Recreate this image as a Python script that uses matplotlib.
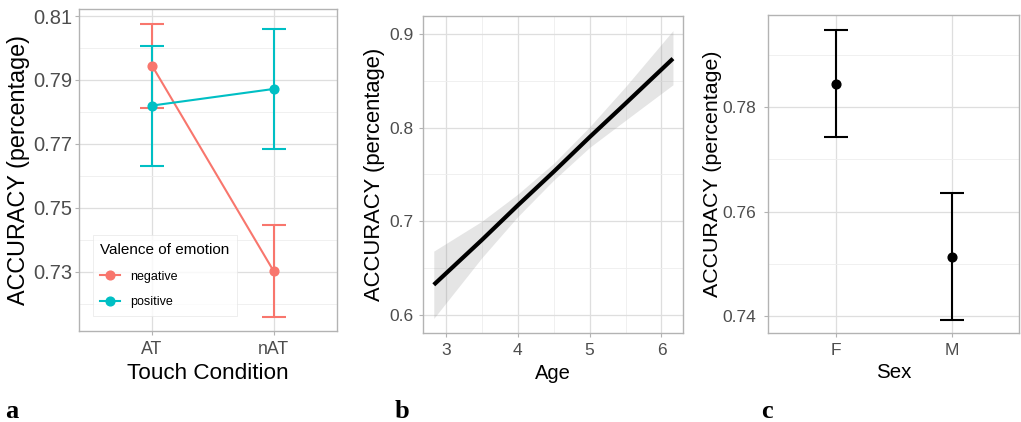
import numpy as np
import matplotlib
matplotlib.use("Agg")
import matplotlib.pyplot as plt
from matplotlib.ticker import FixedLocator

##########
# DATA   #
##########

# panel a: accuracy by touch condition and valence
touch_conditions = ["AT", "nAT"]
neg_mean = [0.7945, 0.7302]
neg_low = [0.7813, 0.7159]
neg_high = [0.8075, 0.7445]
pos_mean = [0.7820, 0.7872]
pos_low = [0.7630, 0.7685]
pos_high = [0.8006, 0.8058]

# panel b: fitted accuracy by age with confidence band
age = [2.83, 3.5, 4.0, 4.5, 5.0, 5.5, 6.16]
age_fit = [0.632, 0.680, 0.717, 0.753, 0.790, 0.826, 0.874]
age_lower = [0.596, 0.661, 0.705, 0.744, 0.779, 0.808, 0.846]
age_upper = [0.668, 0.700, 0.729, 0.762, 0.801, 0.844, 0.904]

# panel c: accuracy by sex
sexes = ["F", "M"]
sex_mean = [0.7845, 0.7514]
sex_low = [0.7742, 0.7392]
sex_high = [0.7948, 0.7636]

##########
# STYLE  #
##########

RED = "#F8766D"
TEAL = "#00BFC4"
BORDER = "#B3B3B3"
GRID_MAJOR = "#DEDEDE"
GRID_MINOR = "#EEEEEE"
TICK_TEXT = "#4D4D4D"

plt.rcParams["font.family"] = ["Liberation Sans", "DejaVu Sans"]

W, H = 1021, 422


def box(left, top, right, bottom):
    return [left / W, 1 - bottom / H, (right - left) / W, (bottom - top) / H]


def light_theme(ax, tick_size, xpad, ypad):
    for s in ax.spines.values():
        s.set_color(BORDER)
        s.set_linewidth(1.0)
    ax.tick_params(which="major", length=3.2, width=0.8, color=BORDER,
                   labelcolor=TICK_TEXT, labelsize=tick_size)
    ax.tick_params(axis="x", pad=xpad)
    ax.tick_params(axis="y", pad=ypad)
    ax.tick_params(which="minor", length=0)
    ax.grid(True, which="major", color=GRID_MAJOR, lw=0.9, zorder=0)
    ax.grid(True, which="minor", color=GRID_MINOR, lw=0.6, zorder=0)
    ax.set_axisbelow(True)


def labels(ax, xlabel, ylabel, xsize, ysize, xpos, ypos):
    ax.set_xlabel(xlabel, fontsize=xsize)
    ax.set_ylabel(ylabel, fontsize=ysize)
    ax.xaxis.set_label_coords(0.5, xpos)
    ax.yaxis.set_label_coords(ypos, 0.5)


def errs(mean, low, high):
    m = np.array(mean)
    return [m - np.array(low), np.array(high) - m]


fig = plt.figure(figsize=(W / 100, H / 100), dpi=100)

# ---- panel a ----
ax1 = fig.add_axes(box(79, 9, 337, 331))
x = np.arange(1, len(touch_conditions) + 1)
ax1.errorbar(x, neg_mean, yerr=errs(neg_mean, neg_low, neg_high), color=RED,
             lw=1.5, marker="o", ms=6.3, capsize=8.6, capthick=1.5, label="negative")
ax1.errorbar(x, pos_mean, yerr=errs(pos_mean, pos_low, pos_high), color=TEAL,
             lw=1.5, marker="o", ms=6.3, capsize=8.6, capthick=1.5, label="positive")
ax1.set_xlim(0.4, 2.52)
ax1.set_ylim(0.7115, 0.8122)
ax1.set_xticks(x)
ax1.set_xticklabels(touch_conditions)
ax1.yaxis.set_major_locator(FixedLocator([0.73, 0.75, 0.77, 0.79, 0.81]))
ax1.yaxis.set_minor_locator(FixedLocator([0.72, 0.74, 0.76, 0.78, 0.80]))
ax1.yaxis.set_major_formatter(plt.FormatStrFormatter("%.2f"))
light_theme(ax1, 14.5, 4.0, 1.5)
ax1.tick_params(axis="x", labelsize=12.8)
labels(ax1, "Touch Condition", "ACCURACY (percentage)", 16.2, 16.8, -0.099, -0.19)
handles, labs = ax1.get_legend_handles_labels()
handles = [h[0] for h in handles]
leg = ax1.legend(handles, labs, title="Valence of emotion", loc="lower left",
                 bbox_to_anchor=(0.053, 0.047), borderaxespad=0, fontsize=9,
                 title_fontsize=11, frameon=True, fancybox=False,
                 handlelength=1.6, labelspacing=1.1, borderpad=0.6,
                 alignment="left")
leg.get_frame().set_edgecolor("#E6E6E6")
leg.get_frame().set_linewidth(0.6)

# ---- panel b ----
ax2 = fig.add_axes(box(423, 16, 683, 333))
ax2.fill_between(age, age_lower, age_upper, color="#999999", alpha=0.25, lw=0, zorder=2)
ax2.plot(age, age_fit, color="black", lw=3, zorder=3, solid_capstyle="butt")
ax2.set_xlim(2.68, 6.3)
ax2.set_ylim(0.5804, 0.9196)
ax2.xaxis.set_major_locator(FixedLocator([3, 4, 5, 6]))
ax2.xaxis.set_minor_locator(FixedLocator([2.5, 3.5, 4.5, 5.5]))
ax2.yaxis.set_major_locator(FixedLocator([0.6, 0.7, 0.8, 0.9]))
ax2.yaxis.set_minor_locator(FixedLocator([0.65, 0.75, 0.85]))
ax2.yaxis.set_major_formatter(plt.FormatStrFormatter("%.1f"))
light_theme(ax2, 12.5, 4.0, 3.5)
labels(ax2, "Age", "ACCURACY (percentage)", 14.5, 15.8, -0.098, -0.146)

# ---- panel c ----
ax3 = fig.add_axes(box(768, 15, 1019, 333))
xs = np.arange(1, len(sexes) + 1)
ax3.errorbar(xs, sex_mean, yerr=errs(sex_mean, sex_low, sex_high), color="black",
             lw=1.5, marker="o", ms=6.3, capsize=8.3, capthick=1.5, ls="none")
ax3.set_xlim(0.41, 2.58)
ax3.set_ylim(0.7368, 0.7976)
ax3.set_xticks(xs)
ax3.set_xticklabels(sexes)
ax3.yaxis.set_major_locator(FixedLocator([0.74, 0.76, 0.78]))
ax3.yaxis.set_minor_locator(FixedLocator([0.75, 0.77, 0.79]))
ax3.yaxis.set_major_formatter(plt.FormatStrFormatter("%.2f"))
light_theme(ax3, 12.5, 4.0, 5.0)
labels(ax3, "Sex", "ACCURACY (percentage)", 14.8, 15.4, -0.094, -0.184)

# panel letters
for letter, px in [("a", 5), ("b", 395), ("c", 761)]:
    fig.text(px / W, 1 - 418 / H, letter, fontsize=19, fontweight="bold",
             family="Liberation Serif", ha="left", va="baseline")

fig.savefig("out.png", dpi=100)
